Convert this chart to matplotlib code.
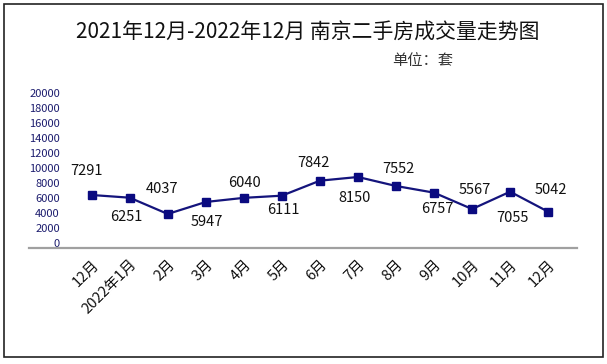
import matplotlib
matplotlib.use("Agg")
import matplotlib.pyplot as plt
from matplotlib.patches import Rectangle

plt.rcParams['font.family'] = ['Noto Sans CJK SC', 'DejaVu Sans']

categories = ["12月", "2022年1月", "2月", "3月", "4月", "5月", "6月",
              "7月", "8月", "9月", "10月", "11月", "12月"]
# values as drawn (marker heights)
plotted_values = [6360, 6000, 3830, 5430, 5980, 6270, 8270,
                  8760, 7560, 6670, 4490, 6800, 4130]
# data-label texts as printed on the chart
label_values = [7291, 6251, 4037, 5947, 6040, 6111, 7842,
                8150, 7552, 6757, 5567, 7055, 5042]
yticks = list(range(0, 20001, 2000))

title = "2021年12月-2022年12月 南京二手房成交量走势图"
unit = "单位：套"

# label offsets in pixels (dx right, dy up)
label_offsets_px = [(-5, 24), (-3, -19), (-6, 25), (1, -20), (1, 15), (1, -14),
                    (-6, 18), (-3, -21), (2, 17), (3, -16), (3, 19), (2, -26), (3, 22)]

W, H = 607, 364
fig = plt.figure(figsize=(W / 100, H / 100), dpi=100)
fig.patch.set_facecolor('white')

ax = fig.add_axes([29.3 / W, 1 - 247.7 / H, (576.7 - 29.3) / W, (247.7 - 92.7) / H])
x = list(range(len(categories)))
navy = '#14147c'
ax.plot(x, plotted_values, color=navy, lw=1.6, marker='s', markersize=6.2,
        markerfacecolor='#0a0a80', markeredgecolor='#0a0a80', zorder=3)

px2pt = 0.72
for xi, yv, lab, (dx, dy) in zip(x, plotted_values, label_values, label_offsets_px):
    ax.annotate(str(lab), (xi, yv), xytext=(dx * px2pt, dy * px2pt),
                textcoords='offset points', ha='center', va='center',
                fontsize=10.5, color='#111111')

ax.set_xlim(-1.64, 12.75)
ax.set_ylim(-667, 20000)
ax.set_yticks(yticks)
ax.set_yticklabels([str(v) for v in yticks], fontsize=8, color='#1c1c6e')
ax.tick_params(axis='y', length=0, pad=-22)
ax.set_xticks(x)
ax.set_xticklabels(categories, rotation=45, ha='right', va='top',
                   rotation_mode='anchor', fontsize=10.5, color='#111111')
ax.tick_params(axis='x', length=0, pad=7)
for s in ['top', 'right', 'left']:
    ax.spines[s].set_visible(False)
ax.spines['bottom'].set_color('#a0a0a0')
ax.spines['bottom'].set_linewidth(1.6)
ax.patch.set_alpha(0)

fig.text(308 / W, 1 - 33 / H, title, ha='center', va='center',
         fontsize=15, color='#111111', fontweight='medium')
fig.text(423 / W, 1 - 60 / H, unit, ha='center', va='center',
         fontsize=11, color='#333333')

fig.add_artist(Rectangle((3.5 / W, 1 - 356.7 / H), (602.7 - 3.5) / W, (356.7 - 4) / H,
                         transform=fig.transFigure, fill=False,
                         edgecolor='#222222', lw=1.2))

fig.savefig('out.png', dpi=100, facecolor='white')
